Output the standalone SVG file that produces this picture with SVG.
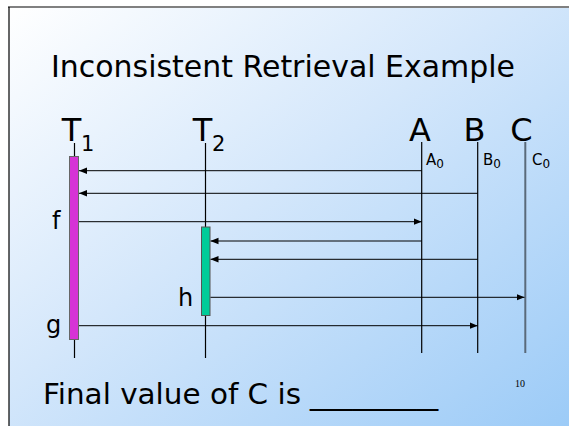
<svg xmlns="http://www.w3.org/2000/svg" width="569" height="426" viewBox="0 0 569 426">
<defs>
<linearGradient id="bg" x1="0" y1="0" x2="1" y2="1">
<stop offset="0" stop-color="#ffffff"/>
<stop offset="0.45" stop-color="#d4e7fb"/>
<stop offset="1" stop-color="#9ccbf7"/>
</linearGradient>
<marker id="ah" viewBox="0 0 10 10" refX="10" refY="5" markerWidth="8" markerHeight="8" markerUnits="userSpaceOnUse" orient="auto">
<path d="M0,1 L10,5 L0,9 z" fill="#000"/>
</marker>
</defs>
<style>
.t{font-family:"DejaVu Sans",Verdana,sans-serif;fill:#000}
.life{stroke:#000;stroke-width:1.2;fill:none}
.msg{stroke:#000;stroke-width:1;fill:none;marker-end:url(#ah)}
</style>
<rect x="0" y="0" width="569" height="426" fill="#fff"/>
<rect x="9" y="7" width="560" height="419" fill="url(#bg)"/>
<line x1="8" y1="7" x2="569" y2="7" stroke="#808080" stroke-width="2"/>
<line x1="9" y1="7" x2="9" y2="426" stroke="#000" stroke-width="1.2"/>
<text class="t" x="51" y="77" font-size="31" textLength="464" lengthAdjust="spacingAndGlyphs">Inconsistent Retrieval Example</text>
<g id="T1">
<text class="t" x="71.5" y="141" font-size="32" text-anchor="middle">T</text>
<text class="t" x="81" y="151" font-size="21">1</text>
<line class="life" x1="74.5" y1="143" x2="74.5" y2="358"/>
<rect x="69.5" y="156.5" width="9" height="183" fill="#d633d6" stroke="#666" stroke-width="1"/>
</g>
<g id="T2">
<text class="t" x="202.5" y="141" font-size="32" text-anchor="middle">T</text>
<text class="t" x="212" y="151" font-size="21">2</text>
<line class="life" x1="205.5" y1="143" x2="205.5" y2="358"/>
<rect x="201.5" y="227" width="8.5" height="88.5" fill="#00cc99" stroke="#555" stroke-width="1"/>
</g>
<g id="A">
<text class="t" x="420" y="141" font-size="32" text-anchor="middle">A</text>
<line class="life" x1="421.7" y1="142" x2="421.7" y2="353"/>
<text class="t" x="426" y="165" font-size="15">A<tspan font-size="12" dy="3">0</tspan></text>
</g>
<g id="B">
<text class="t" x="474.5" y="141" font-size="32" text-anchor="middle">B</text>
<line class="life" x1="477.7" y1="142" x2="477.7" y2="353"/>
<text class="t" x="483" y="165" font-size="15">B<tspan font-size="12" dy="3">0</tspan></text>
</g>
<g id="C">
<text class="t" x="521.5" y="141" font-size="32" text-anchor="middle">C</text>
<line x1="525.3" y1="142" x2="525.3" y2="353" stroke="#5a6a7a" stroke-width="2"/>
<text class="t" x="532" y="165" font-size="15">C<tspan font-size="12" dy="3">0</tspan></text>
</g>
<g id="labels">
<text class="t" x="52" y="229" font-size="24">f</text>
<text class="t" x="178" y="306" font-size="24">h</text>
<text class="t" x="46" y="333" font-size="24">g</text>
</g>
<g id="connectors">
<line class="msg" x1="421.7" y1="170.7" x2="79" y2="170.7"/>
<line class="msg" x1="477.7" y1="193.3" x2="79" y2="193.3"/>
<line class="msg" x1="79" y1="221.7" x2="421.7" y2="221.7"/>
<line class="msg" x1="421.7" y1="241" x2="210.5" y2="241" stroke="#555"/>
<line class="msg" x1="477.7" y1="259.3" x2="210.5" y2="259.3"/>
<line class="msg" x1="210.5" y1="297.3" x2="524.5" y2="297.3" stroke="#333"/>
<line class="msg" x1="79" y1="325.7" x2="477.7" y2="325.7"/>
</g>
<text class="t" x="43" y="404" font-size="29"><tspan textLength="258" lengthAdjust="spacingAndGlyphs">Final value of C is</tspan><tspan x="310" textLength="128" lengthAdjust="spacingAndGlyphs">______</tspan></text>
<text x="515" y="387" font-size="10" font-family="Liberation Serif,serif" fill="#000">10</text>
</svg>
